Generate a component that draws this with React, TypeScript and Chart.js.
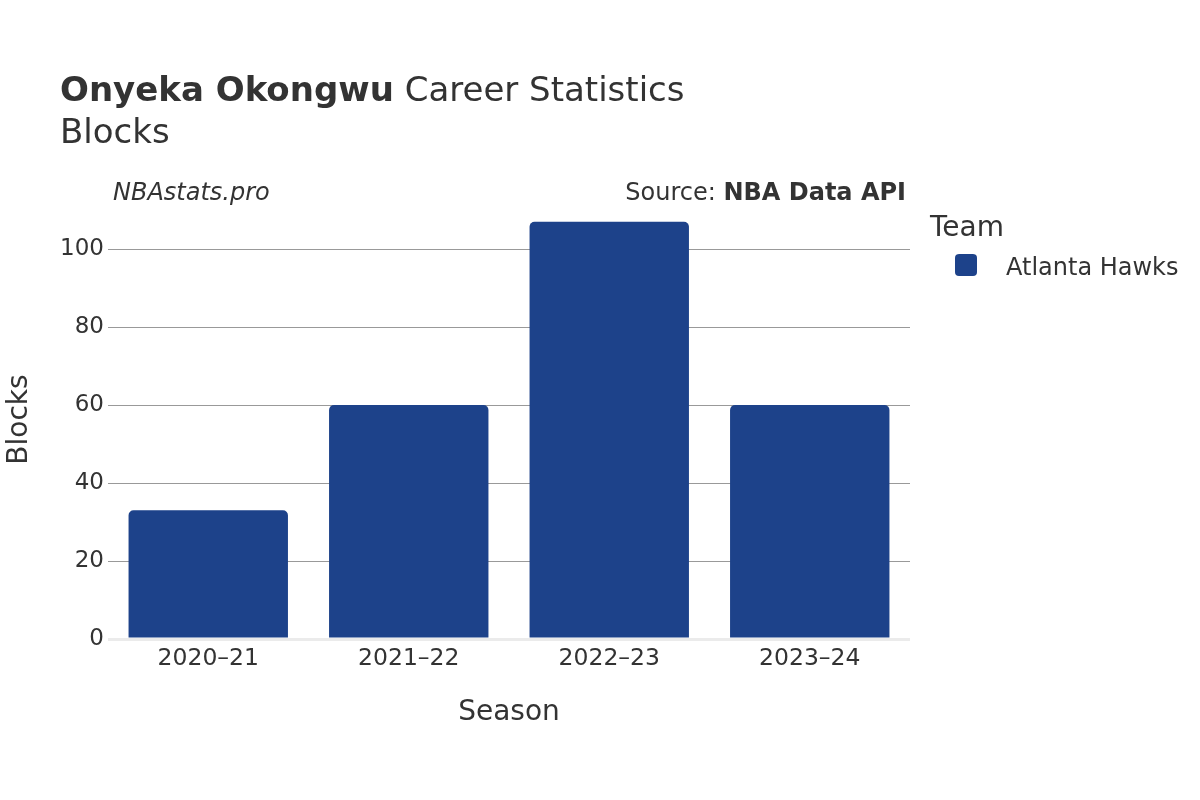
import React, { useEffect, useRef } from "react";
import { Chart, registerables } from "chart.js";

Chart.register(...registerables);

const seasons = ["2020–21", "2021–22", "2022–23", "2023–24"];
const blocks = [33, 60, 107, 60];
const teamName = "Atlanta Hawks";
const yTicks = [0, 20, 40, 60, 80, 100];

const FONT = "'DejaVu Sans', sans-serif";
const TEXT = "#333333";
const BAR = "#1d428a";

export default function App() {
  const ref = useRef<HTMLCanvasElement | null>(null);

  useEffect(() => {
    if (!ref.current) return;
    const chart = new Chart(ref.current, {
      type: "bar",
      data: {
        labels: seasons,
        datasets: [
          {
            label: teamName,
            data: blocks,
            backgroundColor: BAR,
            borderRadius: { topLeft: 5, topRight: 5, bottomLeft: 0, bottomRight: 0 },
            borderSkipped: false,
            barPercentage: 0.795,
            categoryPercentage: 1,
          },
        ],
      },
      options: {
        responsive: false,
        animation: false,
        layout: { padding: { left: 0, top: 200, right: 290, bottom: 0 } },
        plugins: { legend: { display: false }, tooltip: { enabled: false } },
        scales: {
          x: {
            grid: { display: false },
            border: { display: false },
            ticks: { color: TEXT, font: { family: FONT, size: 23.5 }, padding: -2 },
            title: {
              display: true,
              text: "Season",
              color: TEXT,
              font: { family: FONT, size: 28 },
              padding: { top: 0, bottom: 70 },
            },
            afterFit: (s: any) => {
              s.height = 161;
            },
          },
          y: {
            min: 0,
            max: 112.6,
            afterBuildTicks: (s: any) => {
              s.ticks = yTicks.map((v) => ({ value: v }));
            },
            border: { display: false },
            grid: {
              drawTicks: false,
              color: (c: any) => (c.tick && c.tick.value === 0 ? "#ebebeb" : "#999999"),
              lineWidth: (c: any) => (c.tick && c.tick.value === 0 ? 3 : 1),
            },
            ticks: { color: TEXT, font: { family: FONT, size: 23 }, padding: 4 },
            title: {
              display: true,
              text: "Blocks",
              color: TEXT,
              font: { family: FONT, size: 28 },
              padding: { top: 3, bottom: 0 },
            },
            afterFit: (s: any) => {
              s.width = 108;
            },
          },
        },
      },
    });
    return () => chart.destroy();
  }, []);

  return (
    <div style={{ position: "absolute", left: 0, top: 0, width: 1200, height: 800, background: "#fff" }}>
      <canvas ref={ref} width={1200} height={800} style={{ position: "absolute", left: 0, top: 0 }} />
      <svg
        width={1200}
        height={800}
        style={{ position: "absolute", left: 0, top: 0, pointerEvents: "none" }}
        fontFamily="DejaVu Sans, sans-serif"
        fill={TEXT}
      >
        <text x={60} y={101} fontSize={34}>
          <tspan fontWeight="bold">Onyeka Okongwu</tspan>
          <tspan> Career Statistics</tspan>
        </text>
        <text x={60} y={143} fontSize={34}>Blocks</text>
        <text x={113} y={200} fontSize={24} fontStyle="italic">NBAstats.pro</text>
        <text x={906} y={200} fontSize={24} textAnchor="end">
          <tspan>Source: </tspan>
          <tspan fontWeight="bold">NBA Data API</tspan>
        </text>
        <text x={930} y={236} fontSize={28}>Team</text>
        <rect x={955} y={254} width={22} height={22} rx={4} fill={BAR} />
        <text x={1006} y={275} fontSize={24}>{teamName}</text>
      </svg>
    </div>
  );
}
